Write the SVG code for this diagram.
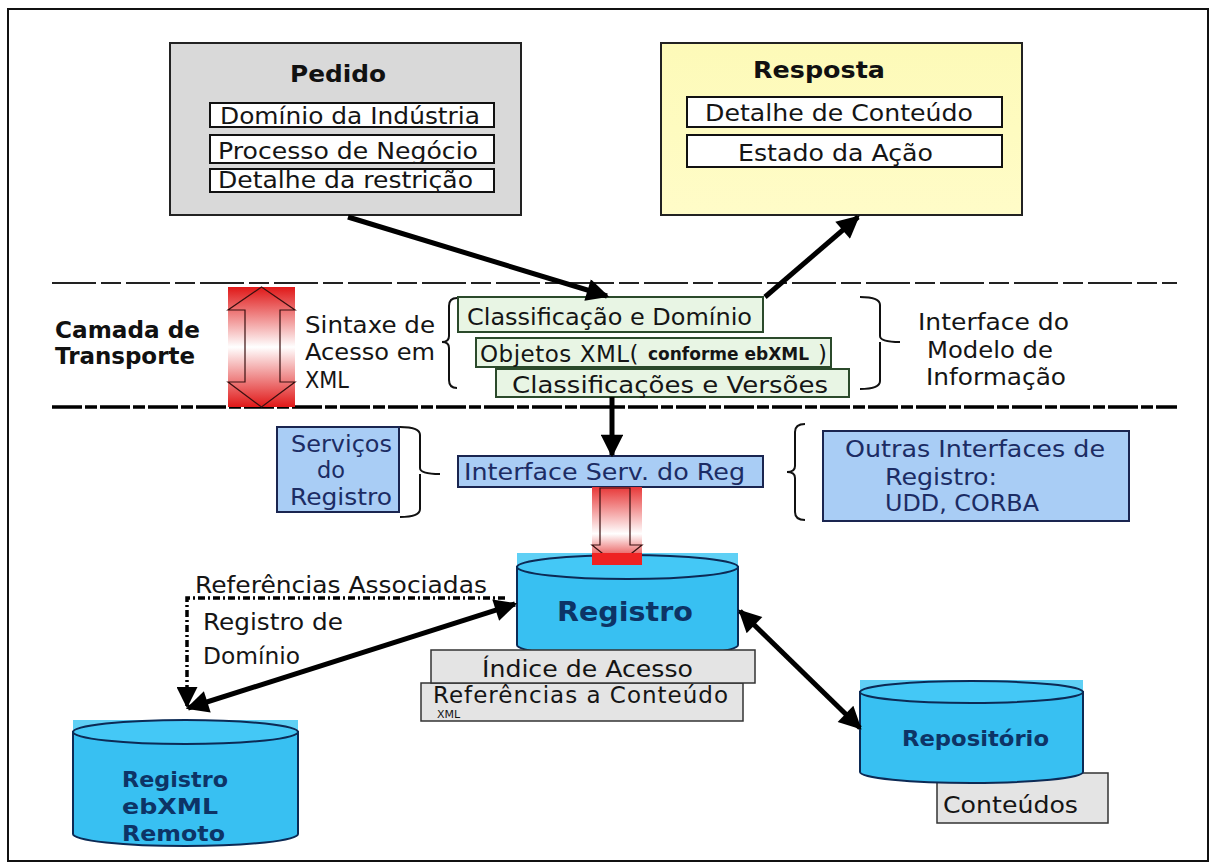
<svg xmlns="http://www.w3.org/2000/svg" width="1211" height="864" viewBox="0 0 1211 864">
  <style>
    .t { font-family: "DejaVu Sans", Verdana, sans-serif; font-size: 23px; fill: #151515; }
    .b { font-family: "DejaVu Sans", Verdana, sans-serif; font-size: 23px; font-weight: bold; fill: #111; }
    .bl { font-family: "DejaVu Sans", Verdana, sans-serif; font-size: 23px; fill: #1c2c64; }
    .cy { font-family: "DejaVu Sans", Verdana, sans-serif; font-weight: bold; fill: #0d3466; }
    .wbox { fill: #ffffff; stroke: #111; stroke-width: 2; }
    .gbox { fill: #e8f5e4; stroke: #2b4a2b; stroke-width: 2; }
    .bbox { fill: #a9cdf5; stroke: #1a2550; stroke-width: 2; }
    .sbox { fill: #e4e4e4; stroke: #333; stroke-width: 1.5; }
    .brace { fill: none; stroke: #111; stroke-width: 2; }
    .cylbody { fill: #38c0f2; stroke: #0c2a55; stroke-width: 2; }
    .cyltop { fill: #44c8f6; stroke: #0c2a55; stroke-width: 2; }
    .cylbg { fill: #5fd0f5; }
    .conn { fill: none; stroke: #000; stroke-width: 5; }
    .hollow { fill: none; stroke: #3a1010; stroke-width: 1.2; }
  </style>
  <defs>
    <marker id="ah" viewBox="0 0 10 10" refX="9" refY="5" markerWidth="5" markerHeight="4.5" orient="auto-start-reverse" markerUnits="strokeWidth">
      <path d="M0,0 L10,5 L0,10 Z" fill="#000"/>
    </marker>
    <marker id="ahs" viewBox="0 0 10 10" refX="9" refY="5" markerWidth="6" markerHeight="6" orient="auto-start-reverse" markerUnits="strokeWidth">
      <path d="M0,0 L10,5 L0,10 Z" fill="#000"/>
    </marker>
    <linearGradient id="redv" x1="0" y1="0" x2="0" y2="1">
      <stop offset="0" stop-color="#e01818"/>
      <stop offset="0.5" stop-color="#ffffff"/>
      <stop offset="1" stop-color="#e01818"/>
    </linearGradient>
    <linearGradient id="redd" x1="0" y1="0" x2="0" y2="1">
      <stop offset="0" stop-color="#e83838"/>
      <stop offset="0.6" stop-color="#ffffff"/>
      <stop offset="1" stop-color="#e01818"/>
    </linearGradient>
    <linearGradient id="yel" x1="0" y1="0" x2="0" y2="1">
      <stop offset="0" stop-color="#fdfab8"/>
      <stop offset="1" stop-color="#fffcc8"/>
    </linearGradient>
  </defs>

  <rect width="1211" height="864" fill="#fff"/>
  <rect x="8" y="9" width="1200" height="852" fill="none" stroke="#111" stroke-width="2"/>

  <!-- transport layer boundaries -->
  <g id="layer-lines">
    <line x1="52" y1="283" x2="1177" y2="283" stroke="#222" stroke-width="2" stroke-dasharray="44 5 20 5"/>
    <line x1="52" y1="407" x2="1177" y2="407" stroke="#000" stroke-width="3.5" stroke-dasharray="30 3 12 3"/>
  </g>

  <g id="pedido">
    <rect x="170" y="43" width="351" height="172" fill="#d9d9d9" stroke="#222" stroke-width="2"/>
    <text class="b" x="290" y="82" textLength="96" lengthAdjust="spacingAndGlyphs">Pedido</text>
    <rect class="wbox" x="210" y="103" width="284" height="24"/>
    <text class="t" x="220" y="124" textLength="260" lengthAdjust="spacingAndGlyphs">Domínio da Indústria</text>
    <rect class="wbox" x="210" y="135" width="284" height="28"/>
    <text class="t" x="218" y="159" textLength="260" lengthAdjust="spacingAndGlyphs">Processo de Negócio</text>
    <rect class="wbox" x="210" y="169" width="284" height="23"/>
    <text class="t" x="218" y="188" textLength="255" lengthAdjust="spacingAndGlyphs">Detalhe da restrição</text>
  </g>

  <g id="resposta">
    <rect x="661" y="43" width="361" height="172" fill="url(#yel)" stroke="#222" stroke-width="2"/>
    <text class="b" x="753" y="78" textLength="132" lengthAdjust="spacingAndGlyphs">Resposta</text>
    <rect class="wbox" x="687" y="97" width="315" height="30"/>
    <text class="t" x="705" y="121" textLength="268" lengthAdjust="spacingAndGlyphs">Detalhe de Conteúdo</text>
    <rect class="wbox" x="687" y="135" width="315" height="32"/>
    <text class="t" x="738" y="161" textLength="195" lengthAdjust="spacingAndGlyphs">Estado da Ação</text>
  </g>

  <g id="camada">
    <text class="b" x="55" y="338" textLength="145" lengthAdjust="spacingAndGlyphs">Camada de</text>
    <text class="b" x="55" y="364" textLength="140" lengthAdjust="spacingAndGlyphs">Transporte</text>
  </g>

  <g id="transport-arrow">
    <rect x="228" y="287" width="67" height="120" fill="url(#redv)"/>
    <path class="hollow" d="M261.5,287 L295,310 L280,310 L280,382 L295,382 L261.5,407 L228,382 L245,382 L245,310 L228,310 Z"/>
  </g>

  <g id="sintaxe">
    <text class="t" x="305" y="333" textLength="130" lengthAdjust="spacingAndGlyphs">Sintaxe de</text>
    <text class="t" x="305" y="360" textLength="130" lengthAdjust="spacingAndGlyphs">Acesso em</text>
    <text class="t" x="305" y="388" textLength="44" lengthAdjust="spacingAndGlyphs">XML</text>
  </g>

  <g id="modelo-info">
    <path class="brace" d="M457,298 Q449,298 449,306 L449,336 Q449,342 442,342 Q449,342 449,348 L449,380 Q449,388 457,388"/>
    <rect class="gbox" x="458" y="297" width="305" height="35"/>
    <text class="t" x="467" y="325" textLength="285" lengthAdjust="spacingAndGlyphs">Classificação e Domínio</text>
    <rect class="gbox" x="476" y="338" width="355" height="29"/>
    <text class="t" y="362"><tspan x="480" letter-spacing="0.5">Objetos XML(</tspan><tspan x="648" y="360" font-size="17" font-weight="bold">conforme ebXML</tspan><tspan x="818" y="362">)</tspan></text>
    <rect class="gbox" x="496" y="369" width="353" height="28"/>
    <text class="t" x="512" y="393" textLength="316" lengthAdjust="spacingAndGlyphs">Classificações e Versões</text>
    <path class="brace" d="M860,297 Q880,297 880,305 L880,336 Q880,342 900,342 M880,342 Q880,348 880,352 L880,381 Q880,389 860,389"/>
    <text class="t" x="918" y="330" textLength="151" lengthAdjust="spacingAndGlyphs">Interface do</text>
    <text class="t" x="927" y="358" textLength="126" lengthAdjust="spacingAndGlyphs">Modelo de</text>
    <text class="t" x="926" y="385" textLength="140" lengthAdjust="spacingAndGlyphs">Informação</text>
  </g>

  <g id="servicos">
    <rect class="bbox" x="277" y="427" width="122" height="85"/>
    <text class="bl" x="291" y="452" textLength="101" lengthAdjust="spacingAndGlyphs">Serviços</text>
    <text class="bl" x="317" y="478" textLength="28" lengthAdjust="spacingAndGlyphs">do</text>
    <text class="bl" x="290" y="505" textLength="102" lengthAdjust="spacingAndGlyphs">Registro</text>
    <path class="brace" d="M400,427 Q420,427 420,435 L420,468 Q420,474 440,474 M420,474 Q420,480 420,484 L420,509 Q420,517 400,517"/>
  </g>

  <g id="interface-serv">
    <rect class="bbox" x="458" y="456" width="305" height="31"/>
    <text class="bl" x="464" y="480" textLength="281" lengthAdjust="spacingAndGlyphs">Interface Serv. do Reg</text>
  </g>

  <g id="outras">
    <path class="brace" d="M805,424 Q795,424 795,432 L795,466 Q795,472 787,472 Q795,472 795,478 L795,512 Q795,520 805,520"/>
    <rect class="bbox" x="823" y="431" width="306" height="90"/>
    <text class="bl" x="845" y="457" textLength="260" lengthAdjust="spacingAndGlyphs">Outras Interfaces de</text>
    <text class="bl" x="885" y="485" textLength="112" lengthAdjust="spacingAndGlyphs">Registro:</text>
    <text class="bl" x="885" y="511" textLength="154" lengthAdjust="spacingAndGlyphs">UDD, CORBA</text>
  </g>

  <g id="registro-arrow">
    <rect x="592" y="487" width="50" height="78" fill="url(#redd)"/>
    <path class="hollow" d="M600,488 L630,488 L630,545 L642,545 L617,565 L592,545 L600,545 Z"/>
  </g>

  <g id="registro">
    <rect class="cylbg" x="517" y="553" width="221" height="20"/>
    <path class="cylbody" d="M517,567 L517,645 A110.5,12 0 0 0 738,645 L738,567 Z"/>
    <ellipse class="cyltop" cx="627.5" cy="567" rx="110.5" ry="12"/>
    <rect x="592" y="553" width="50" height="12" fill="#e22"/>
    <text class="cy" font-size="26" x="557" y="621" textLength="136" lengthAdjust="spacingAndGlyphs">Registro</text>
    <rect class="sbox" x="421" y="683" width="322" height="38"/>
    <rect class="sbox" x="431" y="650" width="324" height="33"/>
    <text class="t" x="482" y="677" textLength="211" lengthAdjust="spacingAndGlyphs">Índice de Acesso</text>
    <text class="t"><tspan x="433" y="703" font-size="23" letter-spacing="1">Referências a Conteúdo</tspan><tspan x="437" y="718" font-size="11">XML</tspan></text>
  </g>

  <g id="remoto">
    <rect class="cylbg" x="73" y="720" width="225" height="18"/>
    <path class="cylbody" d="M73,732 L73,834 A112.5,12 0 0 0 298,834 L298,732 Z"/>
    <ellipse class="cyltop" cx="185.5" cy="732" rx="112.5" ry="12"/>
    <text class="cy" font-size="22" x="122" y="787" textLength="106" lengthAdjust="spacingAndGlyphs">Registro</text>
    <text class="cy" font-size="22" x="122" y="814" textLength="96" lengthAdjust="spacingAndGlyphs">ebXML</text>
    <text class="cy" font-size="22" x="122" y="841" textLength="103" lengthAdjust="spacingAndGlyphs">Remoto</text>
  </g>

  <g id="repositorio">
    <rect class="cylbg" x="860" y="680" width="223" height="16"/>
    <rect class="sbox" x="937" y="773" width="171" height="50" fill="#dcdcdc"/>
    <path class="cylbody" d="M860,692 L860,772 A111.5,11 0 0 0 1083,772 L1083,692 Z"/>
    <ellipse class="cyltop" cx="971.5" cy="692" rx="111.5" ry="11"/>
    <text class="cy" font-size="22" x="902" y="746" textLength="147" lengthAdjust="spacingAndGlyphs">Repositório</text>
    <text class="t" x="943" y="813" textLength="135" lengthAdjust="spacingAndGlyphs">Conteúdos</text>
  </g>

  <g id="labels">
    <text class="t" x="195" y="593" textLength="292" lengthAdjust="spacingAndGlyphs">Referências Associadas</text>
    <text class="t" x="203" y="630" textLength="140" lengthAdjust="spacingAndGlyphs">Registro de</text>
    <text class="t" x="203" y="664" textLength="97" lengthAdjust="spacingAndGlyphs">Domínio</text>
  </g>

  <g id="connectors">
    <line class="conn" x1="348" y1="217" x2="607" y2="296" marker-end="url(#ah)"/>
    <line class="conn" x1="765" y1="297" x2="858" y2="217" marker-end="url(#ah)"/>
    <line class="conn" x1="612" y1="397" x2="612" y2="455" marker-end="url(#ah)"/>
    <line class="conn" x1="188" y1="708" x2="515" y2="604" marker-start="url(#ah)" marker-end="url(#ah)"/>
    <line class="conn" x1="740" y1="611" x2="860" y2="728" marker-start="url(#ah)" marker-end="url(#ah)"/>
    <path d="M505,598 L187,598 L187,706" fill="none" stroke="#000" stroke-width="3.5" stroke-dasharray="7 3 2 3" marker-end="url(#ahs)"/>
  </g>
</svg>
